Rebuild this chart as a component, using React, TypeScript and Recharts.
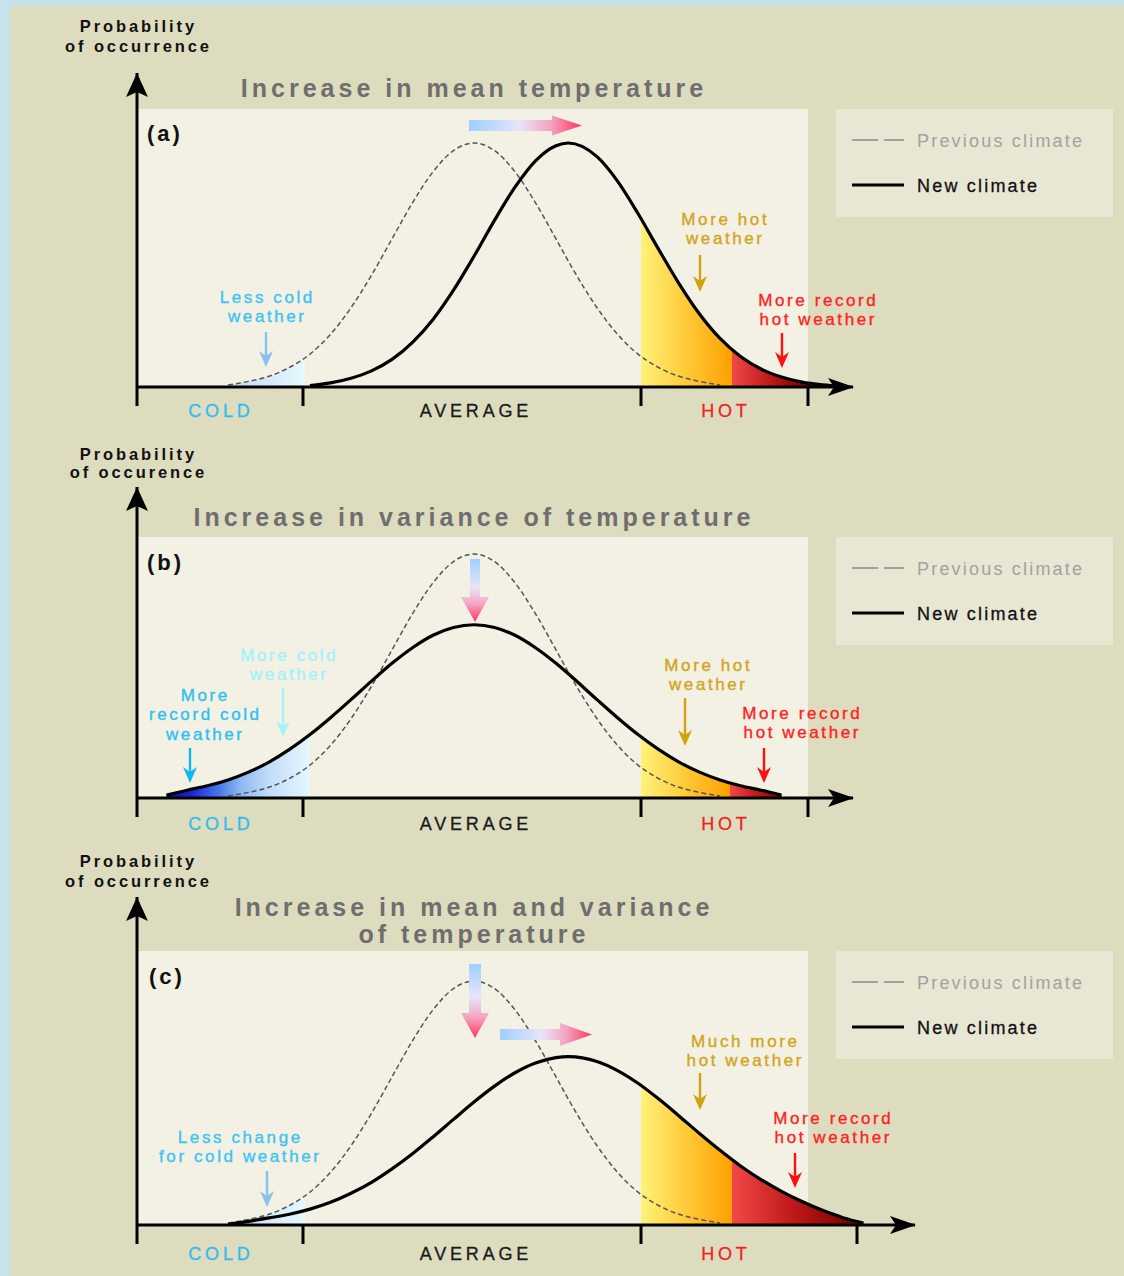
import React from "react";
import {
  ComposedChart,
  Area,
  Line,
  XAxis,
  YAxis,
  ReferenceArea,
  ReferenceDot,
  Legend,
} from "recharts";

// ---------------- data ----------------
// temperature anomaly, in units of the previous climate's standard deviation
const temperatures = [
  -4.0, -3.75, -3.5, -3.25, -3.0, -2.75, -2.5, -2.25, -2.0, -1.75, -1.5, -1.25, -1.0, -0.75, -0.5, -0.25, 0,
  0.25, 0.5, 0.75, 1.0, 1.15, 1.5, 1.75, 2.0, 2.25, 2.5, 2.75, 3.0, 3.25, 3.5, 3.75, 4.0, 4.25, 4.5, 4.75,
];
// probability of occurrence (previous climate peak = 100)
const previousClimate = [
  null, null, null, null, 0.8, 2.3, 4.4, 8.0, 13.5, 21.6, 32.5, 45.8, 60.7, 75.5, 88.2, 96.9, 100,
  96.9, 88.2, 75.5, 60.7, 51.6, 32.5, 21.6, 13.5, 8.0, 4.4, 2.3, 0.8, null, null, null, null, null, null, null,
];
const newClimateMean = [
  null, null, null, null, null, null, null, null, 0.6, 1.7, 3.6, 6.6, 11.3, 18.3, 27.7, 39.7, 53.6,
  68.3, 81.9, 92.7, 98.9, 100, 94.4, 84.4, 71.1, 56.5, 42.4, 29.9, 19.9, 12.5, 7.4, 4.1, 2.0, 0.9, 0.3, null,
];
const newClimateVariance = [
  null, 1.2, 3.2, 5.0, 7.4, 10.6, 14.7, 19.9, 26.0, 32.9, 40.3, 47.9, 55.2, 61.6, 66.7, 69.9, 71.0,
  69.9, 66.7, 61.6, 55.2, 50.9, 40.3, 32.9, 26.0, 19.9, 14.7, 10.6, 7.4, 5.0, 3.2, 1.2, null, null, null, null,
];
const newClimateBoth = [
  null, null, null, null, 0.3, 1.5, 2.9, 4.4, 6.5, 9.3, 13.0, 17.5, 23.0, 29.2, 36.1, 43.3, 50.4,
  56.9, 62.4, 66.4, 68.6, 69.0, 67.0, 63.3, 58.1, 51.7, 44.7, 37.5, 30.6, 24.2, 18.6, 13.8, 9.6, 6.0, 3.0, 0.8,
];

const regionLabels = ["COLD", "AVERAGE", "HOT"];
const legendLabels = ["Previous climate", "New climate"];
const panelTags = ["(a)", "(b)", "(c)"];
const panelTitles = [
  ["Increase in mean temperature"],
  ["Increase in variance of temperature"],
  ["Increase in mean and variance", "of temperature"],
];
const axisTitles = [
  ["Probability", "of occurrence"],
  ["Probability", "of occurence"],
  ["Probability", "of occurrence"],
];

// ---------------- layout & style ----------------
const FONT = '"Liberation Sans", Arial, Helvetica, sans-serif';
const PAGE_W = 1124;
const X_AVG = 474; // pixel of the average temperature
const PX_T = 82; // pixels per temperature unit
const PX_V = 2.44; // pixels per probability unit
const AXIS_X = 137;
const BG_RIGHT = 808;

const GOLD = "#d2a419";
const RED = "#ff2222";
const SKY = "#3ec3f5";

const PANELS: any[] = [
  {
    id: "a", top: 0, height: 430, tip: 73, axis: 387, xEnd: 853, bgTop: 109, lastTick: 808, labelDy: 24,
    next: newClimateMean, shadePrev: true, coldEdge: -2.06, hotEdge: 2.037, recordEdge: 3.146, darkEnd: 4.05,
    coldStops: null, titleY: [88], tag: { x: 147, y: 133 }, axisTitleY: [26, 46], legendTop: 109,
    notes: [
      { x: 266, y: 297, lines: ["Less cold", "weather"], color: SKY },
      { x: 724, y: 219, lines: ["More hot", "weather"], color: GOLD },
      { x: 817, y: 300, lines: ["More record", "hot weather"], color: RED },
    ],
    pointers: [
      { x: 266, top: 332, tip: 367, color: "#86c2ef" },
      { x: 700, top: 255, tip: 292, color: "#cfa20e" },
      { x: 782, top: 333, tip: 368, color: "#ff1010" },
    ],
    shifts: [{ dir: "h", from: 469, tip: 582, at: 125.5, half: 5.5, headLen: 30, headHalf: 10 }],
  },
  {
    id: "b", top: 430, height: 420, tip: 487, axis: 798, xEnd: 853, bgTop: 537, lastTick: 808, labelDy: 26,
    next: newClimateVariance, shadePrev: false, coldEdge: -2.0, hotEdge: 2.037, recordEdge: 3.12, darkEnd: 3.75,
    coldStops: [
      [-3.75, "#0a0ab4"],
      [-3.45, "#1c22d8"],
      [-3.1, "#4a7ae8"],
      [-2.85, "#8cb8f4"],
      [-2.5, "#c2dcfa"],
      [-2.0, "#e6f7ff"],
    ],
    titleY: [517], tag: { x: 147, y: 562 }, axisTitleY: [454, 472], legendTop: 537,
    notes: [
      { x: 288, y: 655, lines: ["More cold", "weather"], color: "#a6f0f8" },
      { x: 204, y: 695, lines: ["More", "record cold", "weather"], color: "#2ec0f2" },
      { x: 707, y: 665, lines: ["More hot", "weather"], color: GOLD },
      { x: 801, y: 713, lines: ["More record", "hot weather"], color: RED },
    ],
    pointers: [
      { x: 283, top: 688, tip: 737, color: "#a6f2fa" },
      { x: 190, top: 748, tip: 783, color: "#10b8f0" },
      { x: 685, top: 698, tip: 746, color: "#cfa20e" },
      { x: 764, top: 748, tip: 783, color: "#ff1010" },
    ],
    shifts: [{ dir: "v", from: 559, tip: 622, at: 475, half: 5, headLen: 25, headHalf: 14 }],
  },
  {
    id: "c", top: 850, height: 426, tip: 897, axis: 1225, xEnd: 915, bgTop: 951, lastTick: 857, labelDy: 29,
    next: newClimateBoth, shadePrev: true, coldEdge: -2.06, hotEdge: 2.037, recordEdge: 3.146, darkEnd: 4.6,
    coldStops: null, titleY: [907, 934], tag: { x: 149, y: 976 }, axisTitleY: [861, 881], legendTop: 951,
    notes: [
      { x: 239, y: 1137, lines: ["Less change", "for cold weather"], color: SKY },
      { x: 744, y: 1041, lines: ["Much more", "hot weather"], color: GOLD },
      { x: 832, y: 1118, lines: ["More record", "hot weather"], color: RED },
    ],
    pointers: [
      { x: 267, top: 1171, tip: 1207, color: "#86c2ef" },
      { x: 700, top: 1073, tip: 1110, color: "#cfa20e" },
      { x: 795, top: 1153, tip: 1188, color: "#ff1010" },
    ],
    shifts: [
      { dir: "v", from: 964, tip: 1038, at: 475, half: 6, headLen: 25, headHalf: 14 },
      { dir: "h", from: 500, tip: 592, at: 1034.5, half: 5.5, headLen: 32, headHalf: 11.5 },
    ],
  },
];

// ---------------- helpers ----------------
const extent = (arr: any[]) => {
  const idx = arr.map((v, i) => (v == null ? -1 : i)).filter((i) => i >= 0);
  return [temperatures[idx[0]], temperatures[idx[idx.length - 1]]];
};

function TextLines({ cx, cy, lines, color, size, weight, spacing, lh, anchor, heavy }: any) {
  const dx = anchor === "start" ? 0 : spacing / 2;
  return (
    <g>
      {lines.map((s: string, i: number) => (
        <text
          key={i}
          x={cx + dx}
          y={cy + i * lh}
          textAnchor={anchor || "middle"}
          dominantBaseline="central"
          fill={color}
          stroke={heavy ? color : "none"}
          strokeWidth={heavy || 0}
          fontFamily={FONT}
          fontSize={size}
          fontWeight={weight}
          style={{ letterSpacing: `${spacing}px` }}
        >
          {s}
        </text>
      ))}
    </g>
  );
}

function LegendBox() {
  return (
    <div style={{ width: 277, height: 108, background: "#e8e7d3" }}>
      <svg width={277} height={108} style={{ display: "block" }}>
        <line x1={16} x2={68} y1={31} y2={31} stroke="#8a8a8a" strokeWidth={1.5} strokeDasharray="26 6" />
        <text x={81} y={32} dominantBaseline="central" fill="#a2a2a2" fontFamily={FONT} fontSize={18}
          style={{ letterSpacing: "2.2px" }}>
          {legendLabels[0]}
        </text>
        <line x1={16} x2={68} y1={76} y2={76} stroke="#000" strokeWidth={3} />
        <text x={81} y={77} dominantBaseline="central" fill="#111" stroke="#111" strokeWidth={0.3}
          fontFamily={FONT} fontSize={18} style={{ letterSpacing: "2.2px" }}>
          {legendLabels[1]}
        </text>
      </svg>
    </div>
  );
}

function Panel({ p, idx }: any) {
  const toT = (px: number) => (px - X_AVG) / PX_T;
  const toV = (py: number) => (p.axis - py) / PX_V;
  const tMin = toT(AXIS_X);
  const tMax = toT(p.xEnd);
  const vMax = toV(p.tip);

  const rows = temperatures.map((t, i) => ({ t, prev: previousClimate[i], next: p.next[i] }));
  const ticks = [tMin, toT(219), toT(303), 0, toT(641), toT(724), toT(p.lastTick)];

  // gradient stops for the new-climate area (objectBoundingBox = data extent)
  const [na, nb] = extent(p.next);
  const offN = (t: number) => Math.min(1, Math.max(0, (t - na) / (nb - na)));
  const nStops: any[] = [];
  if (p.coldStops) {
    p.coldStops.forEach(([t, c]: any) => nStops.push({ o: offN(t), c, op: 1 }));
    nStops.push({ o: offN(p.coldEdge), c: "#e6f7ff", op: 0 });
  } else {
    nStops.push({ o: 0, c: "#ffffff", op: 0 });
  }
  nStops.push({ o: offN(p.hotEdge), c: "#fff27a", op: 0 });
  nStops.push({ o: offN(p.hotEdge), c: "#fff27a", op: 1 });
  nStops.push({ o: (offN(p.hotEdge) + offN(p.recordEdge)) / 2, c: "#ffca38", op: 1 });
  nStops.push({ o: offN(p.recordEdge), c: "#ffa000", op: 1 });
  nStops.push({ o: offN(p.recordEdge), c: "#f24848", op: 1 });
  nStops.push({ o: (offN(p.recordEdge) + offN(p.darkEnd)) / 2, c: "#c01a1a", op: 1 });
  nStops.push({ o: offN(p.darkEnd), c: "#7e0000", op: 1 });
  nStops.push({ o: 1, c: "#7e0000", op: 1 });

  const [pa, pb] = extent(previousClimate);
  const offP = (t: number) => (t - pa) / (pb - pa);

  const tick = (props: any) => {
    const { x, y, index } = props;
    if (index % 2 === 0) {
      return <line x1={x} y1={y} x2={x} y2={y + 19} stroke="#000" strokeWidth={3} />;
    }
    const k = (index - 1) / 2;
    const colors = ["#33bbee", "#1a1a1a", "#ee2424"];
    return (
      <text x={x + 1.9} y={y + p.labelDy} textAnchor="middle" dominantBaseline="central" fill={colors[k]}
        stroke={colors[k]} strokeWidth={0.3} fontFamily={FONT} fontSize={18} style={{ letterSpacing: "3.8px" }}>
        {regionLabels[k]}
      </text>
    );
  };

  return (
    <ComposedChart
      width={PAGE_W}
      height={p.height}
      data={rows}
      margin={{ top: p.tip - p.top, right: PAGE_W - p.xEnd, bottom: 0, left: 0 }}
    >
      <defs>
        <linearGradient id={`prevFill-${p.id}`} x1="0" y1="0" x2="1" y2="0">
          <stop offset={0} stopColor="#c0daf8" stopOpacity={1} />
          <stop offset={offP(p.coldEdge)} stopColor="#e8f8ff" stopOpacity={1} />
          <stop offset={offP(p.coldEdge)} stopColor="#e8f8ff" stopOpacity={0} />
          <stop offset={1} stopColor="#e8f8ff" stopOpacity={0} />
        </linearGradient>
        <linearGradient id={`nextFill-${p.id}`} x1="0" y1="0" x2="1" y2="0">
          {nStops.map((s, i) => (
            <stop key={i} offset={s.o} stopColor={s.c} stopOpacity={s.op} />
          ))}
        </linearGradient>
      </defs>

      <XAxis
        type="number"
        dataKey="t"
        domain={[tMin, tMax]}
        allowDataOverflow
        ticks={ticks}
        interval={0}
        tick={tick}
        tickLine={false}
        tickSize={0}
        tickMargin={0}
        axisLine={{ stroke: "#000", strokeWidth: 3 }}
        height={p.top + p.height - p.axis}
      />
      <YAxis
        type="number"
        domain={[0, vMax]}
        allowDataOverflow
        tick={false}
        tickLine={false}
        axisLine={{ stroke: "#000", strokeWidth: 3 }}
        width={AXIS_X}
      />

      <ReferenceArea x1={tMin} x2={toT(BG_RIGHT)} y1={0} y2={toV(p.bgTop)} fill="#f2f1e4" fillOpacity={1}
        stroke="none" ifOverflow="visible" />

      {p.shadePrev && (
        <Area type="monotone" dataKey="prev" stroke="none" fill={`url(#prevFill-${p.id})`} fillOpacity={1}
          dot={false} activeDot={false} isAnimationActive={false} />
      )}
      <Area type="monotone" dataKey="next" stroke="none" fill={`url(#nextFill-${p.id})`} fillOpacity={1}
        dot={false} activeDot={false} isAnimationActive={false} />
      <Line type="monotone" dataKey="prev" stroke="#555" strokeWidth={1.5} strokeDasharray="5 3"
        dot={false} activeDot={false} isAnimationActive={false} />
      <Line type="monotone" dataKey="next" stroke="#000" strokeWidth={3.2} dot={false} activeDot={false}
        isAnimationActive={false} />

      {/* axis arrowheads */}
      <ReferenceDot x={tMax} y={0} ifOverflow="visible"
        shape={(s: any) => (
          <path d={`M${s.cx + 1},${s.cy} L${s.cx - 25},${s.cy - 9} L${s.cx - 19},${s.cy} L${s.cx - 25},${s.cy + 9} Z`} fill="#000" />
        )} />
      <ReferenceDot x={tMin} y={vMax} ifOverflow="visible"
        shape={(s: any) => (
          <path d={`M${s.cx},${s.cy} L${s.cx - 11},${s.cy + 24} L${s.cx},${s.cy + 19} L${s.cx + 11},${s.cy + 24} Z`} fill="#000" />
        )} />

      {/* axis title */}
      <ReferenceDot x={tMin} y={toV(p.axisTitleY[0])} ifOverflow="visible"
        shape={(s: any) => (
          <TextLines cx={s.cx} cy={s.cy} lines={axisTitles[idx]} color="#111" size={16.5} weight="bold"
            spacing={2.9} lh={p.axisTitleY[1] - p.axisTitleY[0]} />
        )} />

      {/* panel title */}
      <ReferenceDot x={toT(472)} y={toV(p.titleY[0])} ifOverflow="visible"
        shape={(s: any) => (
          <TextLines cx={s.cx} cy={s.cy} lines={panelTitles[idx]} color="#6e6e6e" size={25} weight="bold"
            spacing={4} lh={p.titleY.length > 1 ? p.titleY[1] - p.titleY[0] : 0} />
        )} />

      {/* panel tag */}
      <ReferenceDot x={toT(p.tag.x)} y={toV(p.tag.y)} ifOverflow="visible"
        shape={(s: any) => (
          <TextLines cx={s.cx} cy={s.cy} lines={[panelTags[idx]]} color="#111" size={22} weight="bold"
            spacing={3} lh={0} anchor="start" />
        )} />

      {/* shift arrows */}
      {p.shifts.map((a: any, i: number) => {
        const gid = `shift-${p.id}-${i}`;
        const isH = a.dir === "h";
        return (
          <ReferenceDot key={gid} x={toT(isH ? a.tip : a.at)} y={toV(isH ? a.at : a.tip)} ifOverflow="visible"
            shape={(s: any) => {
              const L = a.tip - a.from;
              const d = isH
                ? `M${s.cx - L},${s.cy - a.half} L${s.cx - a.headLen},${s.cy - a.half} L${s.cx - a.headLen},${s.cy - a.headHalf} L${s.cx},${s.cy} L${s.cx - a.headLen},${s.cy + a.headHalf} L${s.cx - a.headLen},${s.cy + a.half} L${s.cx - L},${s.cy + a.half} Z`
                : `M${s.cx - a.half},${s.cy - L} L${s.cx - a.half},${s.cy - a.headLen} L${s.cx - a.headHalf},${s.cy - a.headLen} L${s.cx},${s.cy} L${s.cx + a.headHalf},${s.cy - a.headLen} L${s.cx + a.half},${s.cy - a.headLen} L${s.cx + a.half},${s.cy - L} Z`;
              return (
                <g>
                  <defs>
                    <linearGradient id={gid} x1="0" y1="0" x2={isH ? "1" : "0"} y2={isH ? "0" : "1"}>
                      <stop offset={0} stopColor="#9cd0ff" />
                      <stop offset={0.45} stopColor="#e8e4fa" />
                      <stop offset={0.72} stopColor="#f4a4c0" />
                      <stop offset={1} stopColor="#ff3468" />
                    </linearGradient>
                  </defs>
                  <path d={d} fill={`url(#${gid})`} />
                </g>
              );
            }} />
        );
      })}

      {/* annotations */}
      {p.notes.map((n: any, i: number) => (
        <ReferenceDot key={`note-${i}`} x={toT(n.x)} y={toV(n.y)} ifOverflow="visible"
          shape={(s: any) => (
            <TextLines cx={s.cx} cy={s.cy} lines={n.lines} color={n.color} size={17} weight="normal"
              spacing={2.6} lh={19.5} heavy={0.35} />
          )} />
      ))}
      {p.pointers.map((a: any, i: number) => (
        <ReferenceDot key={`ptr-${i}`} x={toT(a.x)} y={toV(a.tip)} ifOverflow="visible"
          shape={(s: any) => (
            <g>
              <line x1={s.cx} y1={s.cy - (a.tip - a.top)} x2={s.cx} y2={s.cy - 10} stroke={a.color} strokeWidth={2.4} />
              <path d={`M${s.cx},${s.cy} L${s.cx - 7},${s.cy - 16} L${s.cx},${s.cy - 11} L${s.cx + 7},${s.cy - 16} Z`} fill={a.color} />
            </g>
          )} />
      ))}

      <Legend
        layout="horizontal"
        verticalAlign="middle"
        align="center"
        content={() => <LegendBox />}
        wrapperStyle={{ position: "absolute", left: 836, top: p.legendTop - p.top, width: 277, height: 108 }}
      />
    </ComposedChart>
  );
}

export default function App() {
  return (
    <div style={{ position: "absolute", left: 0, top: 0, width: PAGE_W, height: 1276, background: "#c6e3eb", overflow: "hidden" }}>
      <div style={{ position: "absolute", left: 10, top: 6, right: 0, bottom: 0, background: "#dedcbf" }} />
      {PANELS.map((p, i) => (
        <div key={p.id} style={{ position: "absolute", left: 0, top: p.top }}>
          <Panel p={p} idx={i} />
        </div>
      ))}
    </div>
  );
}
